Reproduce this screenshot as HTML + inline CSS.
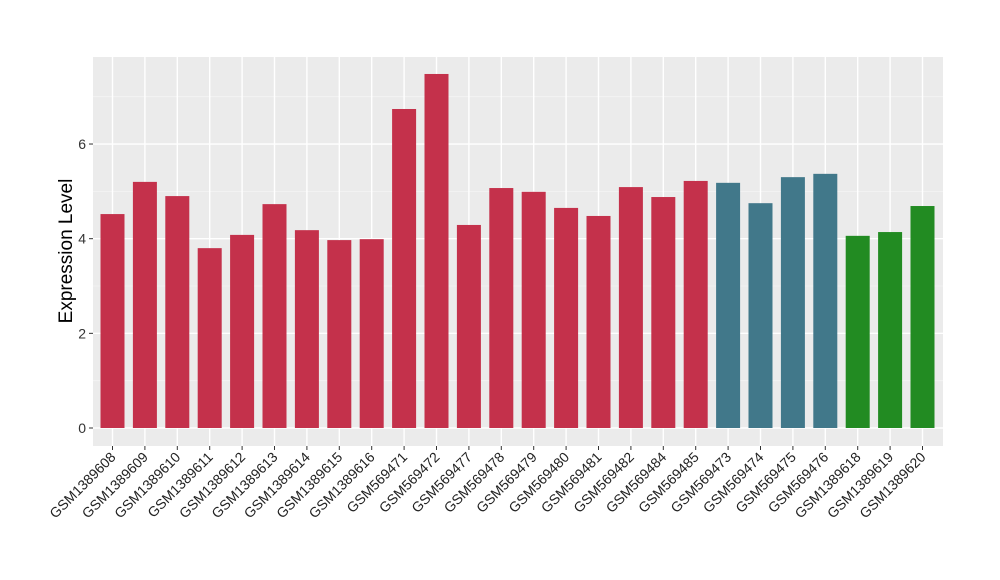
<!DOCTYPE html>
<html><head><meta charset="utf-8"><style>
body{margin:0;background:#fff;}
svg{display:block;font-family:"Liberation Sans",sans-serif;}
</style></head><body>
<svg id="chart" width="1000" height="580">
<rect x="93" y="57" width="850" height="389" fill="#EBEBEB"/>
<g id="grid"></g><g id="bars"></g><g id="yaxis"></g><g id="xaxis"></g>
<text transform="translate(72,251) rotate(-90)" text-anchor="middle" font-size="19" fill="#000">Expression Level</text>
</svg>
<script>
const categories=["GSM1389608","GSM1389609","GSM1389610","GSM1389611","GSM1389612","GSM1389613","GSM1389614","GSM1389615","GSM1389616","GSM569471","GSM569472","GSM569477","GSM569478","GSM569479","GSM569480","GSM569481","GSM569482","GSM569484","GSM569485","GSM569473","GSM569474","GSM569475","GSM569476","GSM1389618","GSM1389619","GSM1389620"];
const values=[4.52,5.20,4.90,3.80,4.08,4.73,4.18,3.97,3.99,6.74,7.48,4.29,5.07,4.99,4.65,4.48,5.09,4.88,5.22,5.18,4.75,5.30,5.37,4.06,4.14,4.69];
const groups=["a","a","a","a","a","a","a","a","a","a","a","a","a","a","a","a","a","a","a","b","b","b","b","c","c","c"];
const yTicks=[0,2,4,6];
const colors={a:"#C4314B",b:"#41788A",c:"#228B22"};
const NS="http://www.w3.org/2000/svg";
function y(v){return 428-v*47.33;}
function x(i){return 112.5+i*32.4;}
function mk(tag,attrs,parent){const e=document.createElementNS(NS,tag);for(const k in attrs)e.setAttribute(k,attrs[k]);document.getElementById(parent).appendChild(e);return e;}
for(let v=-1;v<=7;v+=2){if(y(v)>57&&y(v)<446){const l=mk("line",{x1:93,x2:943,y1:y(v),y2:y(v),stroke:"#F5F5F5","stroke-width":0.8},"grid");

}}
yTicks.forEach(v=>{const l=mk("line",{x1:93,x2:943,y1:y(v),y2:y(v),stroke:"#fff","stroke-width":1.4},"grid");


const t=mk("line",{x1:89,x2:93,y1:y(v),y2:y(v),stroke:"#333"},"yaxis");


const tx=mk("text",{x:86,y:y(v)+5,"text-anchor":"end","font-size":14,fill:"#333"},"yaxis");tx.textContent=v;

});
categories.forEach((c,i)=>{const g=mk("line",{x1:x(i),x2:x(i),y1:57,y2:446,stroke:"#fff","stroke-width":1.4},"grid");


const b=mk("rect",{x:x(i)-12,y:y(values[i]),width:24,height:y(0)-y(values[i]),fill:colors[groups[i]]},"bars");


const t=mk("line",{x1:x(i),x2:x(i),y1:446,y2:450,stroke:"#333"},"xaxis");


const tx=mk("text",{transform:`translate(${x(i)+4},${458}) rotate(-45)`,"text-anchor":"end","font-size":14,fill:"#222"},"xaxis");tx.textContent=c;

});
</script>
</body></html>
